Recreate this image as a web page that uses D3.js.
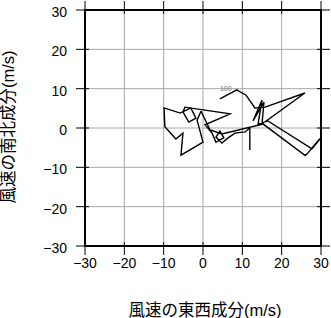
<!DOCTYPE html>
<html>
<head>
<meta charset="utf-8">
<title>hodograph</title>
<script src="https://d3js.org/d3.v7.min.js"></script>
<style>
  * { margin: 0; padding: 0; }
  body { background: #fff; }
  text { font-family: "Liberation Sans", Arial, "Noto Sans CJK JP", sans-serif; }
</style>
</head>
<body>
<div id="chart"></div>
<script>
// 軸の目盛り
const ticks = [-30, -20, -10, 0, 10, 20, 30];
// ホドグラフ（東西成分 u, 南北成分 v）[m/s]
const uWind = [11.9, 11.9, 10.7, 8.1, 6.4, 4.8, 3.3, 4.3, 5.3, 3.3, 2.3, 0.5, 6.9, -4.6, -5.1, -3.6,
  -1.8, -3.1, -5.8, -9.9, -9.7, -6.9, -5.1, -5.6, 0.0, -1.5, -0.5, 1.8, 4.8, 15.3, 26.0, 26.8, 29.2,
  30.0, 27.7, 16.5, 14.0, 15.0, 12.7, 15.5, 15.0, 25.9, 15.8, 13.2, 10.9, 9.9, 8.6, 4.3];
const vWind = [-5.6, 0.0, -1.0, -1.3, -2.5, -3.8, -2.3, -0.8, -2.5, -3.6, -1.3, 0.8, 3.6, 5.3, 4.1, 1.5,
  2.5, 5.1, 3.8, 5.1, 0.3, -2.8, -1.3, -6.9, -3.6, 2.0, 4.3, -0.5, -1.5, 1.0, -7.0, -6.2, -3.3,
  -2.5, -5.3, 1.8, 1.0, 7.1, 1.8, 6.6, 1.0, 8.9, 5.3, 5.1, 8.4, 8.9, 9.7, 7.4];
const levelLabel = { text: "100", u: 5.8, v: 9.5 };

const W = 331, H = 318;
const pL = 85, pR = 321, pT = 10, pB = 246;

const svg = d3.select("#chart").append("svg")
  .attr("width", W).attr("height", H);

const x = d3.scaleLinear().domain([-30, 30]).range([pL, pR]);
const y = d3.scaleLinear().domain([-30, 30]).range([pB, pT]);
const fmt = d3.format("d");

// グリッド
const grid = svg.append("g").attr("stroke", "#a8a8a8").attr("stroke-width", 1);
grid.selectAll(".gx").data(ticks.slice(1, -1)).join("line")
  .attr("x1", d => x(d)).attr("x2", d => x(d))
  .attr("y1", pT).attr("y2", pB);
grid.selectAll(".gy").data(ticks.slice(1, -1)).join("line")
  .attr("y1", d => y(d)).attr("y2", d => y(d))
  .attr("x1", pL).attr("x2", pR);

// 目盛り線（枠をまたぐ）
const tk = svg.append("g").attr("stroke", "#000").attr("stroke-width", 1);
tk.selectAll(".tb").data(ticks).join("line")
  .attr("x1", d => x(d)).attr("x2", d => x(d)).attr("y1", pB - 4).attr("y2", pB + 9);
tk.selectAll(".tt").data(ticks).join("line")
  .attr("x1", d => x(d)).attr("x2", d => x(d)).attr("y1", pT + 4).attr("y2", pT - 9);
tk.selectAll(".tl").data(ticks).join("line")
  .attr("y1", d => y(d)).attr("y2", d => y(d)).attr("x1", pL + 4).attr("x2", pL - 9);
tk.selectAll(".tr").data(ticks).join("line")
  .attr("y1", d => y(d)).attr("y2", d => y(d)).attr("x1", pR - 4).attr("x2", pR + 9);

// 枠
svg.append("rect")
  .attr("x", pL).attr("y", pT)
  .attr("width", pR - pL).attr("height", pB - pT)
  .attr("fill", "none").attr("stroke", "#000").attr("stroke-width", 2);

// ホドグラフ
const pts = uWind.map((u, i) => [u, vWind[i]]);
svg.append("path")
  .datum(pts)
  .attr("fill", "none")
  .attr("stroke", "#000")
  .attr("stroke-width", 1.4)
  .attr("stroke-linejoin", "miter")
  .attr("d", d3.line().x(d => x(d[0])).y(d => y(d[1])));

svg.append("text")
  .attr("x", x(levelLabel.u)).attr("y", y(levelLabel.v))
  .attr("font-size", 7).attr("fill", "#777")
  .attr("text-anchor", "middle")
  .text(levelLabel.text);

// 目盛りラベル
svg.append("g").selectAll("text").data(ticks).join("text")
  .attr("x", d => x(d)).attr("y", 268)
  .attr("text-anchor", "middle")
  .attr("font-size", 14)
  .text(d => fmt(d));
svg.append("g").selectAll("text").data(ticks).join("text")
  .attr("x", 67).attr("y", d => y(d) + 7)
  .attr("text-anchor", "end")
  .attr("font-size", 14)
  .text(d => fmt(d));

// 軸タイトル
svg.append("text")
  .attr("x", 205).attr("y", 316)
  .attr("text-anchor", "middle")
  .attr("font-size", 16.5)
  .text("風速の東西成分(m/s)");
svg.append("text")
  .attr("transform", "translate(14,127) rotate(-90)")
  .attr("text-anchor", "middle")
  .attr("font-size", 16.5)
  .text("風速の南北成分(m/s)");
</script>
</body>
</html>
